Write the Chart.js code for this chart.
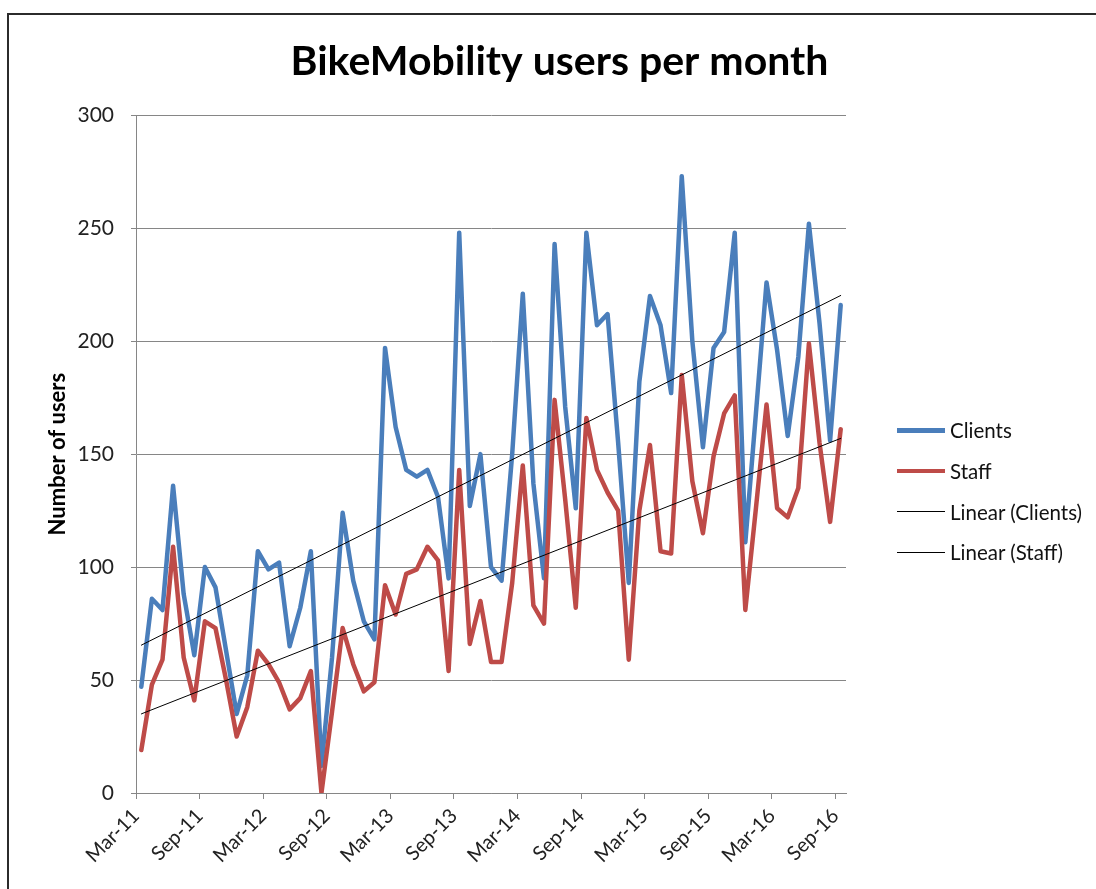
<!DOCTYPE html>
<html>
<head>
<meta charset="utf-8">
<title>BikeMobility users per month</title>
<script src="https://cdn.jsdelivr.net/npm/chart.js@4.4.1/dist/chart.umd.min.js"></script>
<style>
  html, body { margin: 0; padding: 0; background: #fff; overflow: hidden; }
  body { width: 1096px; height: 889px; position: relative; font-family: Lato, "Open Sans", sans-serif; }
  #frame { position: absolute; left: 7px; top: 13px; width: 1200px; height: 1000px;
           border-left: 2px solid #2b2b2b; border-top: 2px solid #2b2b2b; }
  #wrap { position: absolute; left: 8px; top: 14px; width: 1103px; height: 875px; }
  #legend { position: absolute; left: 897px; top: 410px; font-size: 20.5px; color: #111; }
  #legend .item { display: flex; align-items: center; height: 40.7px; white-space: nowrap; }
  #legend .swatch { display: inline-block; width: 48px; margin-right: 5px; }
</style>
</head>
<body>
<div id="frame"></div>
<div id="wrap"><canvas id="chart"></canvas></div>
<div id="legend"></div>
<script>
const months = [
  'Mar-11','Apr-11','May-11','Jun-11','Jul-11','Aug-11','Sep-11','Oct-11','Nov-11','Dec-11',
  'Jan-12','Feb-12','Mar-12','Apr-12','May-12','Jun-12','Jul-12','Aug-12','Sep-12','Oct-12','Nov-12','Dec-12',
  'Jan-13','Feb-13','Mar-13','Apr-13','May-13','Jun-13','Jul-13','Aug-13','Sep-13','Oct-13','Nov-13','Dec-13',
  'Jan-14','Feb-14','Mar-14','Apr-14','May-14','Jun-14','Jul-14','Aug-14','Sep-14','Oct-14','Nov-14','Dec-14',
  'Jan-15','Feb-15','Mar-15','Apr-15','May-15','Jun-15','Jul-15','Aug-15','Sep-15','Oct-15','Nov-15','Dec-15',
  'Jan-16','Feb-16','Mar-16','Apr-16','May-16','Jun-16','Jul-16','Aug-16','Sep-16'
];

const clients = [
  47, 86, 81, 136, 88, 61, 100, 91, 63, 35,
  52, 107, 99, 102, 65, 82, 107, 12, 60, 124, 94, 76,
  68, 197, 162, 143, 140, 143, 131, 95, 248, 127, 150, 100,
  94, 150, 221, 137, 95, 243, 171, 126, 248, 207, 212, 155,
  93, 182, 220, 207, 177, 273, 200, 153, 197, 204, 248, 111,
  168, 226, 196, 158, 193, 252, 208, 156, 216
];

const staff = [
  19, 48, 59, 109, 60, 41, 76, 73, 50, 25,
  38, 63, 57, 49, 37, 42, 54, 0, 36, 73, 57, 45,
  49, 92, 79, 97, 99, 109, 103, 54, 143, 66, 85, 58,
  58, 93, 145, 83, 75, 174, 130, 82, 166, 143, 133, 125,
  59, 125, 154, 107, 106, 185, 138, 115, 149, 168, 176, 81,
  126, 172, 126, 122, 135, 199, 155, 120, 161
];

const yTicks = [0, 50, 100, 150, 200, 250, 300];
const labelEvery = 6; // one label every 6 months

const FONT = 'Lato, "Open Sans", sans-serif';
const GRID = '#868686';

// points sit in the middle of each month slot, like Excel's date axis
const toPoints = vals => vals.map((v, i) => ({ x: i + 0.5, y: v }));

// least squares trendline over the series
function trend(vals) {
  const n = vals.length;
  let sx = 0, sy = 0, sxx = 0, sxy = 0;
  vals.forEach((v, i) => { sx += i; sy += v; sxx += i * i; sxy += i * v; });
  const b = (n * sxy - sx * sy) / (n * sxx - sx * sx);
  const a = (sy - b * sx) / n;
  return [{ x: 0.5, y: a }, { x: n - 0.5, y: a + b * (n - 1) }];
}

const ctx = document.getElementById('chart').getContext('2d');
const chart = new Chart(ctx, {
  type: 'line',
  data: {
    datasets: [
      { label: 'Clients', data: toPoints(clients), borderColor: '#4A7EBB', borderWidth: 4.5, order: 4 },
      { label: 'Staff', data: toPoints(staff), borderColor: '#BE4B48', borderWidth: 4.5, order: 3 },
      { label: 'Linear (Clients)', data: trend(clients), borderColor: '#000', borderWidth: 1, order: 2 },
      { label: 'Linear (Staff)', data: trend(staff), borderColor: '#000', borderWidth: 1, order: 1 },
    ],
  },
  options: {
    responsive: true,
    maintainAspectRatio: false,
    animation: false,
    elements: {
      point: { radius: 0 },
      line: { tension: 0, borderCapStyle: 'round', borderJoinStyle: 'round' },
    },
    plugins: {
      legend: { display: false },
      tooltip: { enabled: false },
      title: {
        display: true,
        text: 'BikeMobility users per month',
        color: '#000',
        font: { family: FONT, size: 41, weight: 'bold' },
        padding: { top: 23, bottom: 29 },
      },
    },
    scales: {
      x: {
        type: 'linear',
        min: 0,
        max: months.length,
        afterBuildTicks: (s) => {
          s.ticks = months.map((m, i) => ({ value: i })).filter((t) => t.value % labelEvery === 0);
        },
        afterFit: (s) => { s.height = 96; },
        ticks: {
          callback: (v) => months[v],
          autoSkip: false,
          minRotation: 45,
          maxRotation: 45,
          padding: 5,
          color: '#222',
          font: { family: FONT, size: 20 },
        },
        grid: { drawOnChartArea: false, drawTicks: true, tickLength: 6, color: GRID },
        border: { color: GRID },
      },
      y: {
        min: yTicks[0],
        max: yTicks[yTicks.length - 1],
        afterBuildTicks: (s) => { s.ticks = yTicks.map((v) => ({ value: v })); },
        afterFit: (s) => { s.width = 128; },
        ticks: { padding: 17, color: '#222', font: { family: FONT, size: 21 } },
        grid: { color: GRID, tickLength: 5 },
        border: { color: GRID },
        title: {
          display: true,
          text: 'Number of users',
          color: '#000',
          font: { family: FONT, size: 22, weight: 'bold' },
          padding: { top: 37, bottom: 0 },
        },
      },
      // empty right axis keeps room for the legend so the title stays centred on the whole chart
      side: {
        position: 'right',
        min: 0,
        max: 1,
        afterFit: (s) => { s.width = 265; },
        ticks: { display: false },
        grid: { display: false },
        border: { display: false },
      },
    },
  },
});

// legend built from the chart's datasets
const legend = document.getElementById('legend');
chart.data.datasets.forEach((ds) => {
  const item = document.createElement('div');
  item.className = 'item';
  const sw = document.createElement('span');
  sw.className = 'swatch';
  sw.style.height = ds.borderWidth + 'px';
  sw.style.background = ds.borderColor;
  item.appendChild(sw);
  item.appendChild(document.createTextNode(ds.label));
  legend.appendChild(item);
});
</script>
</body>
</html>
